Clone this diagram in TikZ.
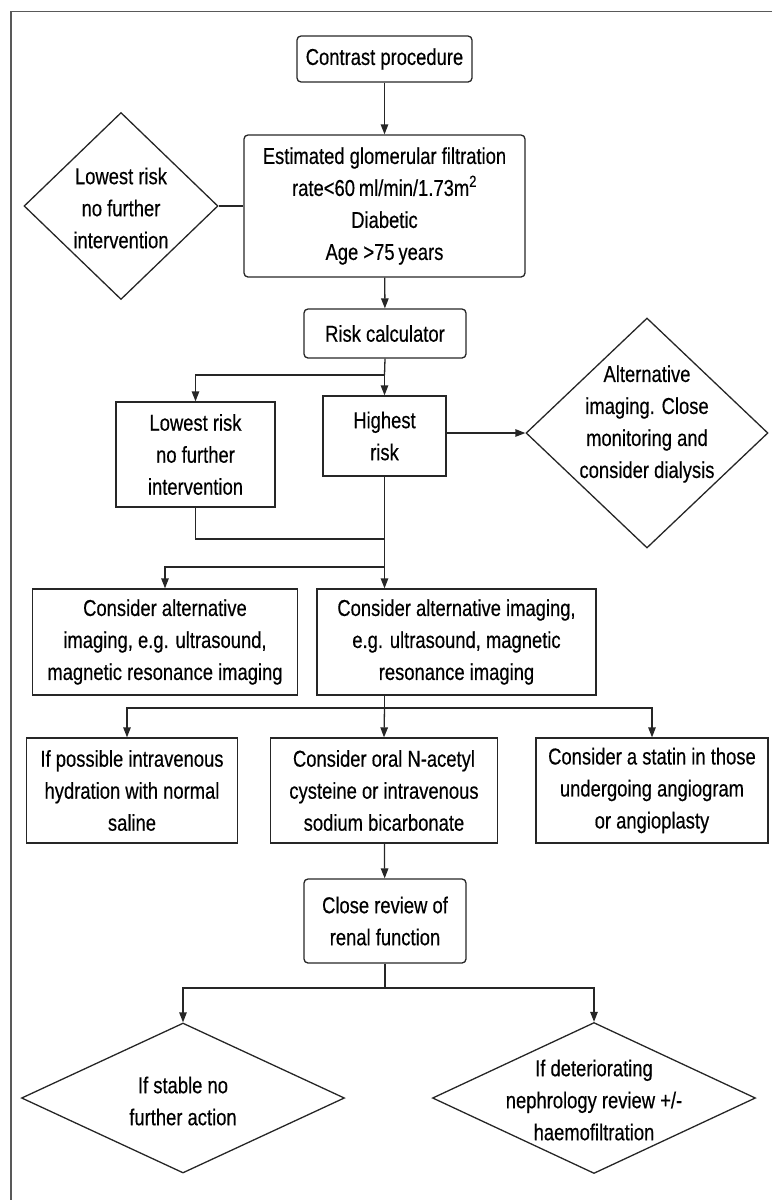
\documentclass[tikz,border=0pt]{standalone}
\usepackage{fontspec}
\setmainfont{Liberation Sans}[FakeStretch=0.8, FakeBold=0.4]
\usetikzlibrary{positioning, arrows.meta, shapes.geometric}

\begin{document}
\begin{tikzpicture}[x=1pt, y=-1pt,
    font=\fontsize{23}{32}\selectfont,
    roundbox/.style={draw=black!85, line width=1.3pt, rounded corners=4pt, align=center, inner sep=0pt},
    sqbox/.style={draw=black!85, line width=1.3pt, align=center, inner sep=0pt},
    decision/.style={draw=black!85, line width=1.3pt, diamond, inner sep=0pt},
    dtext/.style={align=center, inner sep=0pt},
    line/.style={draw=black!85, line width=1.3pt},
    arr/.style={line, -{Triangle[length=10pt, width=7.5pt]}}]
    \useasboundingbox (0,0) rectangle (772,1200);

    % frame, top and left only
    \draw[black!65, line width=1.5pt] (772,11.5) -| (11,1200);

    \node [roundbox, minimum width=175, minimum height=46] (contrast) at (384.5,59) {Contrast procedure};
    \node [roundbox, minimum width=281, minimum height=142] (egfr) at (384.5,206)
        {Estimated glomerular filtration\\rate<60\,ml/min/1.73m\textsuperscript{2}\\Diabetic\\Age >75\,years};
    \node [decision, minimum width=194, minimum height=187] (lowA) at (121,206) {};
    \node [dtext] (lowAtext) at ([yshift=-2pt]lowA.center) {Lowest risk\\no further\\intervention};

    \node [roundbox, minimum width=162, minimum height=49] (risk) at (385,333.5) {Risk calculator};

    \node [sqbox, minimum width=159, minimum height=105] (lowB) at (195.5,454.5) {Lowest risk\\no further\\intervention};
    \node [sqbox, minimum width=123, minimum height=80] (high) at (384.5,436) {Highest\\risk};
    \node [decision, minimum width=242, minimum height=230] (alt) at (647,433) {};
    \node [dtext] (alttext) at ([yshift=9pt]alt.center)
        {Alternative\\imaging. Close\\monitoring and\\consider dialysis};

    \node [sqbox, minimum width=265, minimum height=106] (consL) at (165,642)
        {Consider alternative\\imaging, e.g. ultrasound,\\magnetic resonance imaging};
    \node [sqbox, minimum width=279, minimum height=106] (consR) at (456.5,642)
        {Consider alternative imaging,\\e.g. ultrasound, magnetic\\resonance imaging};

    \node [sqbox, minimum width=211, minimum height=105] (hydr) at (132,790.5)
        {If possible intravenous\\hydration with normal\\saline};
    \node [sqbox, minimum width=227, minimum height=105] (nac) at (384,790.5)
        {Consider oral N-acetyl\\cysteine or intravenous\\sodium bicarbonate};
    \node [sqbox, minimum width=232, minimum height=105] (statin) at (652,790.5)
        {Consider a statin in those\\undergoing angiogram\\or angioplasty};

    \node [roundbox, minimum width=162, minimum height=84] (review) at (385,921) {Close review of\\renal function};

    \node [decision, minimum width=323, minimum height=150] (stable) at (183,1098) {};
    \node [dtext] (stabletext) at ([yshift=-3pt]stable.center) {If stable no\\further action};
    \node [decision, minimum width=323, minimum height=151] (deter) at (594,1098) {};
    \node [dtext] (detertext) at ([yshift=-2pt]deter.center)
        {If deteriorating\\nephrology review +/-\\haemofiltration};

    % branch points
    \coordinate (split1) at (384.5,375);
    \coordinate (join1) at (384.5,539);
    \coordinate (split2) at (384.5,567);
    \coordinate (split3) at (384.5,708);
    \coordinate (split4) at (385,988);

    \draw [arr] (contrast) -- (egfr);
    \draw [line] (lowA.east) -- (lowA.east -| egfr.west);
    \draw [arr] (egfr) -- (risk);
    \draw [line] (risk.south) -- (split1);
    \draw [arr] (split1) -| (lowB.north);
    \draw [arr] (split1) -- (high.north);
    \draw [arr] (high.east |- alt.west) -- (alt.west);
    \draw [line] (lowB.south) |- (join1);
    \draw [line] (high.south) -- (split2);
    \draw [arr] (split2) -| (consL.north);
    \draw [arr] (split2) -- (split2 |- consR.north);
    \draw [line] (split2 |- consR.south) -- (split3);
    \draw [arr] (split3) -| ([xshift=-5pt]hydr.north);
    \draw [arr] (split3) -- (nac.north);
    \draw [arr] (split3) -| (statin.north);
    \draw [arr] (nac) -- (review);
    \draw [line] (review.south) -- (split4);
    \draw [arr] (split4) -| (stable.north);
    \draw [arr] (split4) -| (deter.north);
\end{tikzpicture}
\end{document}
